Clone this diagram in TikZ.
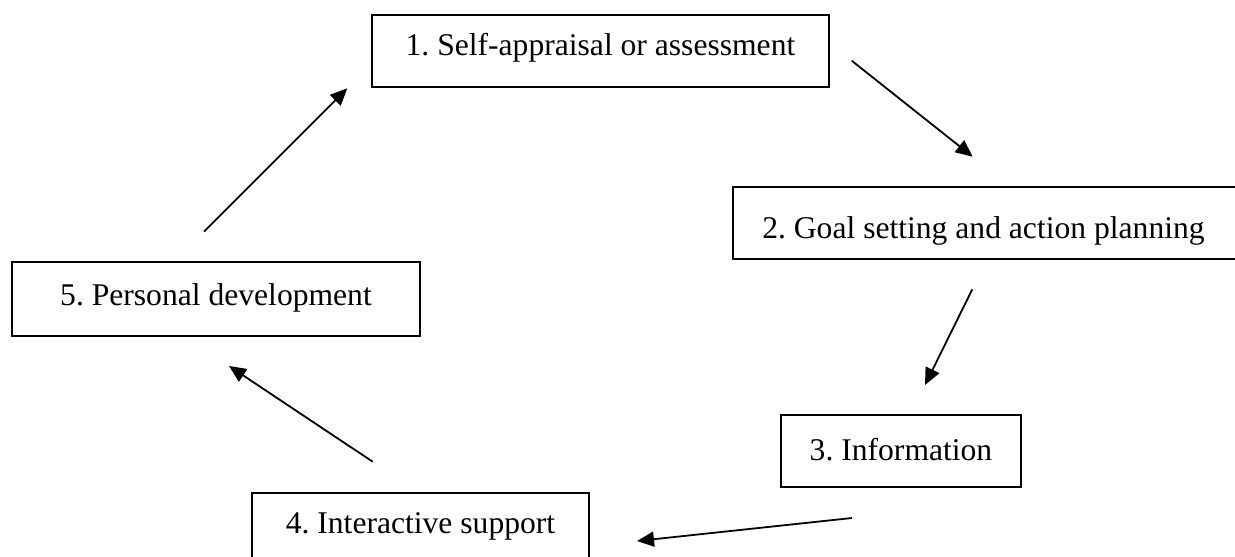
\documentclass[tikz,border=0pt]{standalone}
\usepackage{fontspec}
\setmainfont{Liberation Serif}
\usetikzlibrary{arrows.meta}
\frenchspacing
\begin{document}
\begin{tikzpicture}[x=1pt,y=-1pt,
  stagebox/.style={draw=black,line width=1.6pt,inner sep=0pt,anchor=base,
    font=\fontsize{31.6}{38}\selectfont},
  flowarrow/.style={line width=1.8pt,-{Triangle[length=17pt,width=15pt]}}]
\useasboundingbox (0,0) rectangle (1235,557);
\node[stagebox,minimum width=457pt,text height=40pt,text depth=32pt] (s1) at (600.5,55) {1. Self-appraisal or assessment};
\node[stagebox,minimum width=510pt,text height=51pt,text depth=21pt] (s2) at (988,238) {\hspace*{-9pt}2. Goal setting and action planning};
\node[stagebox,minimum width=240pt,text height=45pt,text depth=27pt] (s3) at (901,460) {3. Information};
\node[stagebox,minimum width=337pt,text height=40pt,text depth=42pt] (s4) at (420.5,533) {4. Interactive support};
\node[stagebox,minimum width=408pt,text height=43pt,text depth=31pt] (s5) at (216,305) {5. Personal development};
\coordinate (a1s) at (851.7,60.7);
\coordinate (a1e) at (972.7,156.7);
\coordinate (a2s) at (972.3,289.3);
\coordinate (a2e) at (925,385);
\coordinate (a3s) at (852,518);
\coordinate (a3e) at (637,541);
\coordinate (a4s) at (372.7,461.7);
\coordinate (a4e) at (229,366);
\coordinate (a5s) at (204,231.7);
\coordinate (a5e) at (347.3,88.3);
\draw[flowarrow] (a1s) -- (a1e);
\draw[flowarrow] (a2s) -- (a2e);
\draw[flowarrow] (a3s) -- (a3e);
\draw[flowarrow] (a4s) -- (a4e);
\draw[flowarrow] (a5s) -- (a5e);
\end{tikzpicture}
\end{document}
